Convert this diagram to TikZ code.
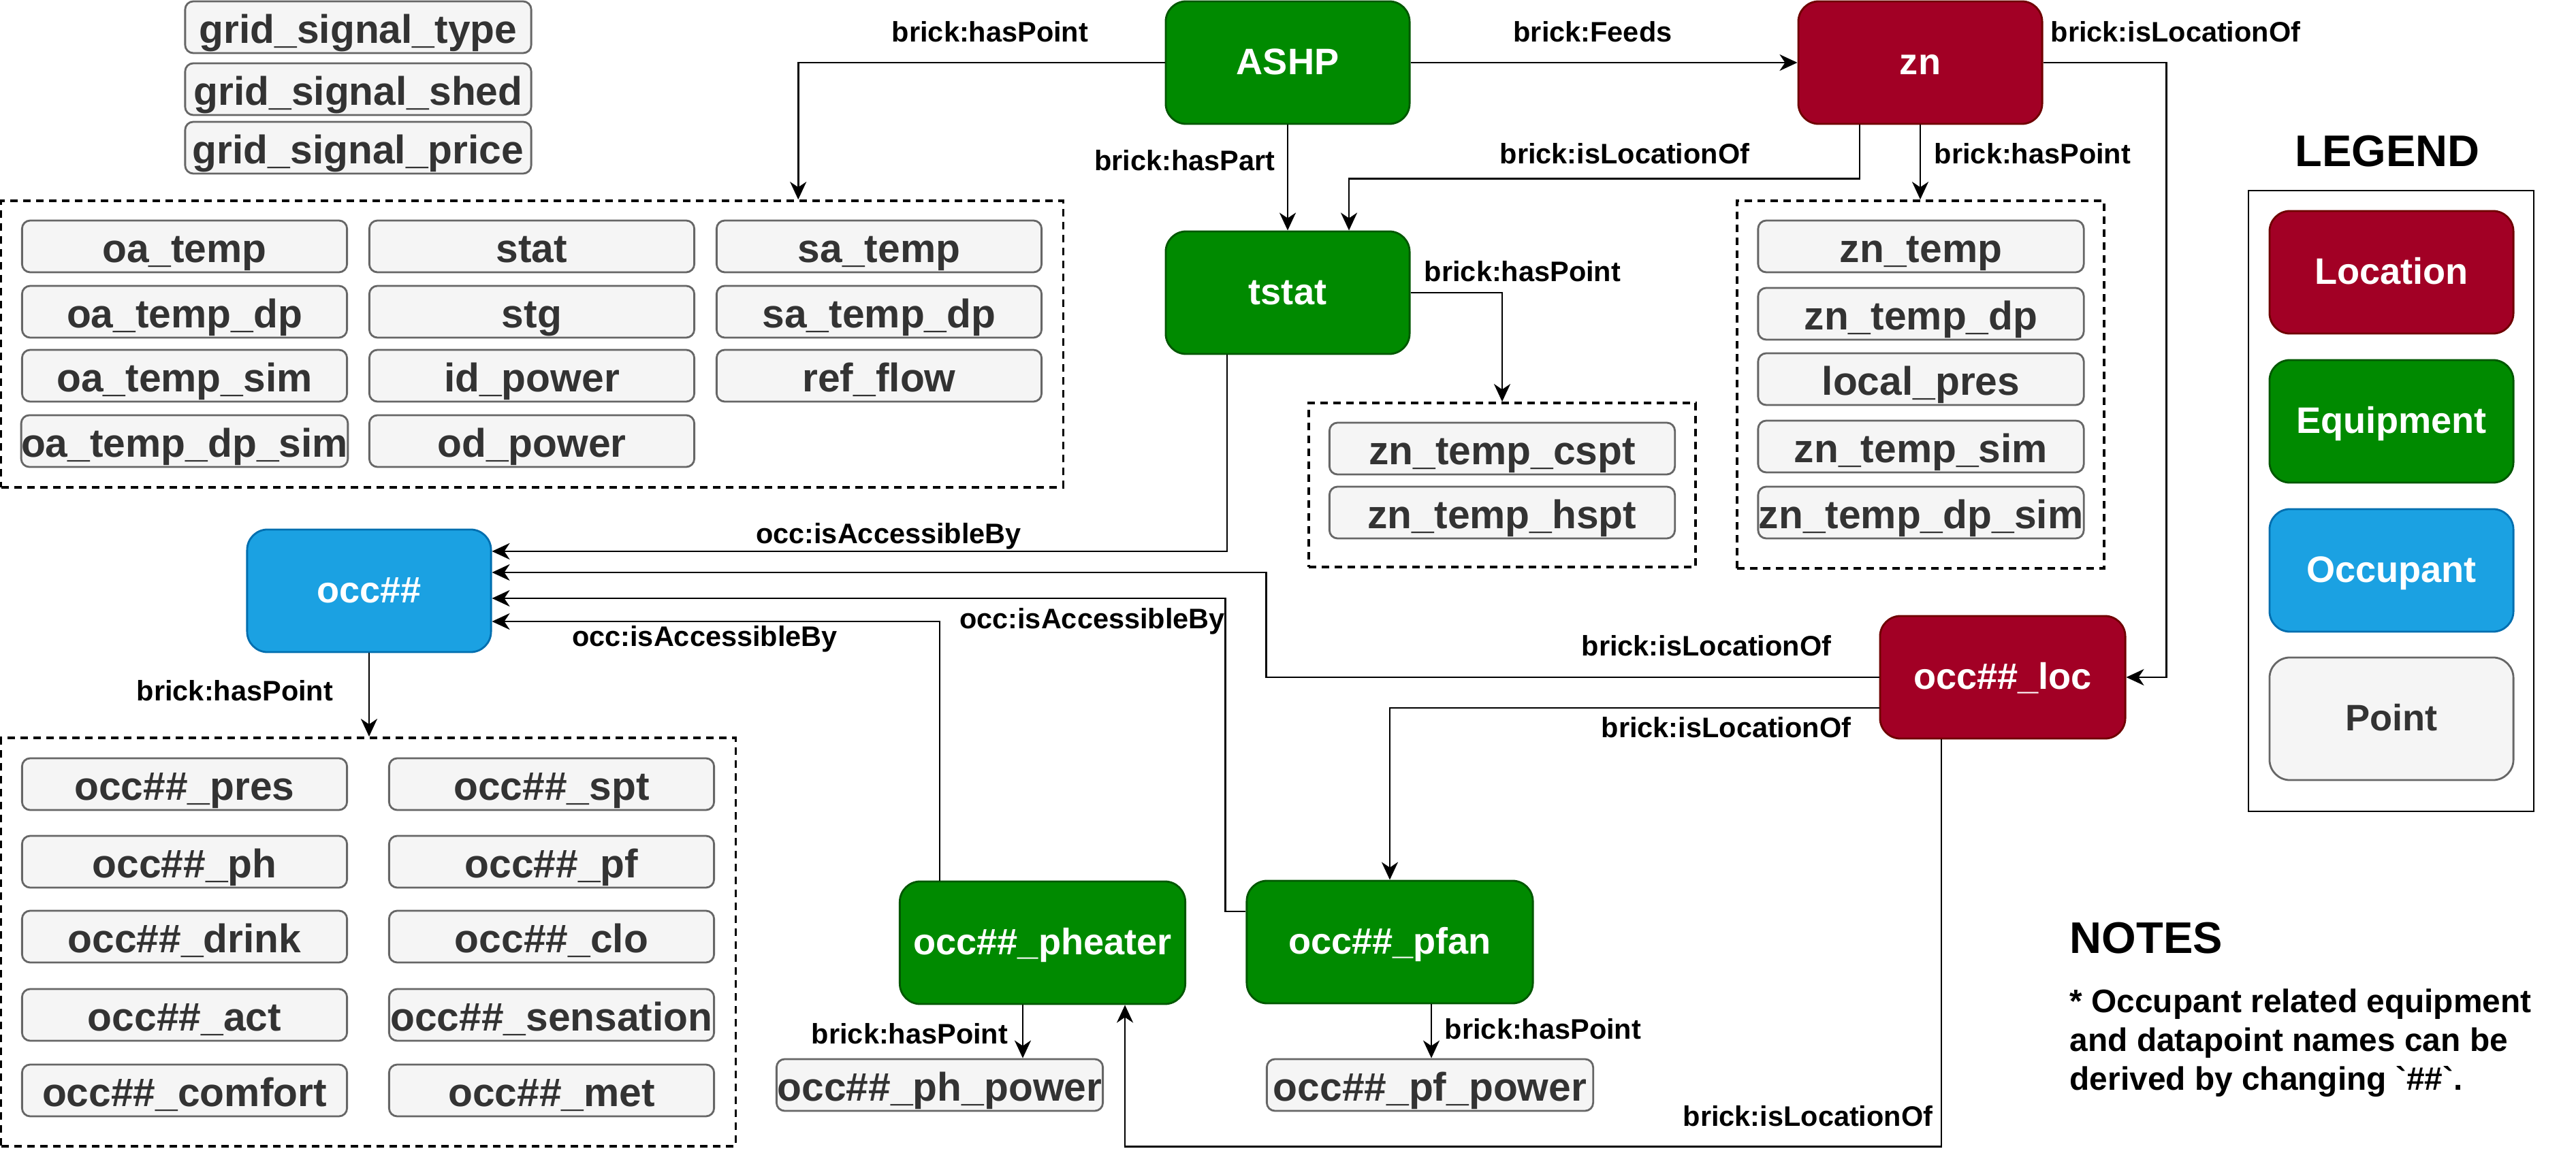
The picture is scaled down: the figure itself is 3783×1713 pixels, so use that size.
\documentclass[tikz,border=0pt]{standalone}
\usepackage{fontspec}
\setmainfont{Liberation Sans}
\usetikzlibrary{arrows.meta}
\definecolor{locred}{HTML}{A20025}
\definecolor{locline}{HTML}{6F0000}
\definecolor{eqgreen}{HTML}{008A00}
\definecolor{eqline}{HTML}{005700}
\definecolor{occblue}{HTML}{1BA1E2}
\definecolor{occline}{HTML}{006EAF}
\definecolor{ptfill}{HTML}{F5F5F5}
\definecolor{ptline}{HTML}{666666}
\definecolor{pttext}{HTML}{333333}
\tikzset{
	entity/.style={rounded corners=0.3cm, line width=0.8pt, minimum width=3.58cm, minimum height=1.8cm, inner sep=0pt, text height=13pt, text depth=3.1pt, text=white, font=\fontsize{15.4pt}{18pt}\selectfont\bfseries},
	location/.style={entity, fill=locred, draw=locline},
	equipment/.style={entity, fill=eqgreen, draw=eqline},
	occupant/.style={entity, fill=occblue, draw=occline},
	point/.style={rounded corners=0.12cm, line width=0.8pt, fill=ptfill, draw=ptline, text=pttext, minimum width=4.77cm, minimum height=0.76cm, inner sep=0pt, text height=16.8pt, text depth=3.4pt, font=\fontsize{16.7pt}{20pt}\selectfont\bfseries},
	ptgroup/.style={draw, line width=1pt, dash pattern=on 0.11cm off 0.08cm, inner sep=0pt},
	conn/.style={line width=0.8pt, -{Stealth[length=0.26cm, width=0.24cm, inset=0.08cm]}},
	elabel/.style={inner sep=0pt, font=\fontsize{11.8pt}{14pt}\selectfont\bfseries},
	title/.style={inner sep=0pt, font=\fontsize{18.5pt}{22pt}\selectfont\bfseries},
}

\begin{document}
\begin{tikzpicture}[x=0.01cm, y=-0.01cm]
	%%%%% START %%%%%
	\useasboundingbox (0, 0) rectangle (3783, 1713);

	% grid signals
	\node[point, minimum width=5.08cm] (gridtype) at (526, 40) {grid\_signal\_type};
	\node[point, minimum width=5.08cm] (gridshed) at (526, 131) {grid\_signal\_shed};
	\node[point, minimum width=5.08cm] (gridprice) at (526, 217) {grid\_signal\_price};

	% main entities
	\node[equipment] (ashp) at (1891, 92) {ASHP};
	\node[location] (zn) at (2820, 92) {zn};
	\node[equipment] (tstat) at (1891, 430) {tstat};
	\node[occupant] (occ) at (542, 868) {occ\#\#};
	\node[location, minimum width=3.6cm] (occloc) at (2941, 995) {occ\#\#\_loc};
	\node[equipment, minimum width=4.19cm] (pheater) at (1531, 1385) {occ\#\#\_pheater};
	\node[equipment, minimum width=4.2cm] (pfan) at (2041, 1384) {occ\#\#\_pfan};

	% ASHP points
	\node[ptgroup, minimum width=15.59cm, minimum height=4.21cm] (ashppts) at (781.5, 505.5) {};
	\node[point] (oatemp) at (271, 362) {oa\_temp};
	\node[point] (oatempdp) at (271, 458) {oa\_temp\_dp};
	\node[point] (oatempsim) at (271, 552) {oa\_temp\_sim};
	\node[point] (oatempdpsim) at (271, 648) {oa\_temp\_dp\_sim};
	\node[point] (stat) at (781, 362) {stat};
	\node[point] (stg) at (781, 458) {stg};
	\node[point] (idpower) at (781, 552) {id\_power};
	\node[point] (odpower) at (781, 648) {od\_power};
	\node[point] (satemp) at (1291, 362) {sa\_temp};
	\node[point] (satempdp) at (1291, 458) {sa\_temp\_dp};
	\node[point] (refflow) at (1291, 552) {ref\_flow};

	% tstat points
	\node[ptgroup, minimum width=5.68cm, minimum height=2.41cm] (tstatpts) at (2206, 712.5) {};
	\node[point, minimum width=5.07cm] (cspt) at (2206, 659) {zn\_temp\_cspt};
	\node[point, minimum width=5.07cm] (hspt) at (2206, 753) {zn\_temp\_hspt};

	% zn points
	\node[ptgroup, minimum width=5.39cm, minimum height=5.4cm] (znpts) at (2820.5, 565) {};
	\node[point, minimum width=4.78cm] (zntemp) at (2821, 362) {zn\_temp};
	\node[point, minimum width=4.78cm] (zntempdp) at (2821, 461) {zn\_temp\_dp};
	\node[point, minimum width=4.78cm] (localpres) at (2821, 557) {local\_pres};
	\node[point, minimum width=4.78cm] (zntempsim) at (2821, 656) {zn\_temp\_sim};
	\node[point, minimum width=4.78cm] (zntempdpsim) at (2821, 753) {zn\_temp\_dp\_sim};

	% occupant points
	\node[ptgroup, minimum width=10.78cm, minimum height=6cm] (occpts) at (541, 1384) {};
	\node[point] (occpres) at (271, 1152) {occ\#\#\_pres};
	\node[point] (occph) at (271, 1266) {occ\#\#\_ph};
	\node[point] (occdrink) at (271, 1376) {occ\#\#\_drink};
	\node[point] (occact) at (271, 1491) {occ\#\#\_act};
	\node[point] (occcomfort) at (271, 1602) {occ\#\#\_comfort};
	\node[point] (occspt) at (810, 1152) {occ\#\#\_spt};
	\node[point] (occpf) at (810, 1266) {occ\#\#\_pf};
	\node[point] (occclo) at (810, 1376) {occ\#\#\_clo};
	\node[point] (occsens) at (810, 1491) {occ\#\#\_sensation};
	\node[point] (occmet) at (810, 1602) {occ\#\#\_met};

	\node[point, minimum width=4.79cm] (phpower) at (1380, 1594) {occ\#\#\_ph\_power};
	\node[point, minimum width=4.79cm] (pfpower) at (2100, 1594) {occ\#\#\_pf\_power};

	% connectors
	\draw[conn] (ashp.west) -| ([xshift=3.905cm]ashppts.north);
	\draw[conn] (ashp.east) -- (zn.west);
	\draw[conn] (ashp.south) -- (tstat.north);
	\draw[conn] ([xshift=-0.89cm]zn.south) -- ++(0, 79) -| ([xshift=0.9cm]tstat.north);
	\draw[conn] (zn.south) -- (zn.south |- znpts.north);
	\draw[conn] (zn.east) -- ++(181, 0) |- (occloc.east);
	\draw[conn] (tstat.east) -| (tstatpts.north);
	\draw[conn] ([xshift=-0.89cm]tstat.south) |- ([yshift=0.58cm]occ.east);
	\draw[conn] (occloc.west) -- ++(-900, 0) |- ([yshift=0.27cm]occ.east);
	\draw[conn] ([yshift=0.45cm]pfan.west) -- ++(-30, 0) |- ([yshift=-0.11cm]occ.east);
	\draw[conn] ([xshift=-1.51cm]pheater.north) |- ([yshift=-0.45cm]occ.east);
	\draw[conn] ([yshift=-0.45cm]occloc.west) -| (pfan.north);
	\draw[conn] ([xshift=-0.9cm]occloc.south) -- ++(0, 598) -| ([xshift=1.21cm]pheater.south);
	\draw[conn] (occ.south) -- (occ.south |- occpts.north);
	\draw[conn] ([xshift=-0.29cm]pheater.south) -- ([xshift=-0.29cm]pheater.south |- phpower.north);
	\draw[conn] ([xshift=0.61cm]pfan.south) -- ([xshift=0.61cm]pfan.south |- pfpower.north);

	% connector labels
	\node[elabel] (lbashppt) at (1454, 47) {brick:hasPoint};
	\node[elabel] (lbfeeds) at (2339, 47) {brick:Feeds};
	\node[elabel] (lbznloc) at (3195, 47) {brick:isLocationOf};
	\node[elabel] (lbhaspart) at (1740, 236) {brick:hasPart};
	\node[elabel] (lbzntstat) at (2386, 226) {brick:isLocationOf};
	\node[elabel] (lbznpt) at (2985, 226) {brick:hasPoint};
	\node[elabel] (lbtstatpt) at (2236, 399) {brick:hasPoint};
	\node[elabel] (lbtstatocc) at (1305, 788) {occ:isAccessibleBy};
	\node[elabel] (lblococc) at (2506, 949) {brick:isLocationOf};
	\node[elabel] (lbfanocc) at (1604, 913) {occ:isAccessibleBy};
	\node[elabel] (lbheatocc) at (1035, 939) {occ:isAccessibleBy};
	\node[elabel] (lblocfan) at (2535, 1069) {brick:isLocationOf};
	\node[elabel] (lblocheat) at (2655, 1640) {brick:isLocationOf};
	\node[elabel] (lboccpt) at (345, 1015) {brick:hasPoint};
	\node[elabel] (lbheatpt) at (1336, 1519) {brick:hasPoint};
	\node[elabel] (lbfanpt) at (2266, 1512) {brick:hasPoint};

	% legend
	\node[title] (legend) at (3506, 222) {LEGEND};
	\draw[line width=0.8pt] (3302, 280) rectangle (3721, 1192);
	\node[location] (keyloc) at (3512, 400) {Location};
	\node[equipment] (keyequip) at (3512, 619) {Equipment};
	\node[occupant] (keyocc) at (3512, 838) {Occupant};
	\node[point, minimum width=3.58cm, minimum height=1.8cm, rounded corners=0.3cm, text height=13pt, text depth=3.1pt, font=\fontsize{15.4pt}{18pt}\selectfont\bfseries] (keypt) at (3512, 1056) {Point};

	% notes
	\node[title, anchor=west] (notes) at (3039, 1378) {NOTES};
	\node[inner sep=0pt, anchor=west, align=left, font=\fontsize{13.6pt}{16.2pt}\selectfont\bfseries] (notetext) at (3039, 1532) {* Occupant related equipment\\and datapoint names can be\\derived by changing \textasciigrave\#\#\textasciigrave.};
	%%%%% END %%%%%
\end{tikzpicture}
\end{document}
